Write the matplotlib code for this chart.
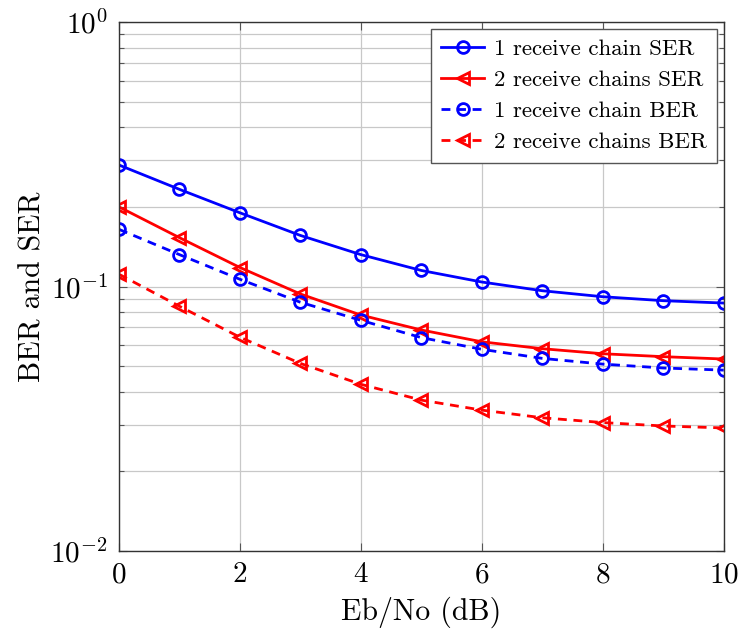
import matplotlib
matplotlib.use("Agg")
import matplotlib.pyplot as plt
import numpy as np

plt.rcParams["font.family"] = "cmr10"
plt.rcParams["mathtext.fontset"] = "cm"
plt.rcParams["axes.formatter.use_mathtext"] = True

# Eb/No values (dB)
ebno = [0, 1, 2, 3, 4, 5, 6, 7, 8, 9, 10]

# error rates
ser_1rx = [0.288, 0.233, 0.190, 0.156, 0.132, 0.115, 0.104, 0.0964, 0.0915, 0.0884, 0.0866]
ser_2rx = [0.200, 0.153, 0.118, 0.0937, 0.078, 0.0685, 0.0618, 0.0582, 0.0557, 0.0543, 0.0532]
ber_1rx = [0.1645, 0.132, 0.1065, 0.0872, 0.0745, 0.0641, 0.0579, 0.0535, 0.0509, 0.0492, 0.0483]
ber_2rx = [0.1113, 0.0842, 0.0643, 0.0512, 0.0427, 0.0372, 0.0341, 0.0319, 0.0306, 0.0297, 0.0292]

labels = ["1 receive chain SER", "2 receive chains SER",
          "1 receive chain BER", "2 receive chains BER"]

fig = plt.figure(figsize=(7.4, 6.33), dpi=100)
ax = fig.add_axes([0.1608, 0.1295, 0.8172, 0.8357])

dash = (0, (3.2, 2.4))
common = dict(lw=2.0, markersize=8.5, markeredgewidth=2.0, markerfacecolor="none")
ax.plot(ebno, ser_1rx, color="blue", marker="o", ls="-", label=labels[0], **common)
ax.plot(ebno, ser_2rx, color="red", marker="<", ls="-", label=labels[1], **common)
ax.plot(ebno, ber_1rx, color="blue", marker="o", ls=dash, label=labels[2], **common)
ax.plot(ebno, ber_2rx, color="red", marker="<", ls=dash, label=labels[3], **common)

ax.set_yscale("log")
ax.set_xlim(0, 10)
ax.set_ylim(1e-2, 1)
ax.set_xticks([0, 2, 4, 6, 8, 10])

ax.grid(True, which="major", color="#c8c8c8", lw=0.9)
ax.grid(True, which="minor", axis="y", color="#c8c8c8", lw=0.9)
ax.set_axisbelow(True)

ax.tick_params(which="both", direction="in", top=True, right=True,
               labelsize=21, color="#555555")
ax.tick_params(which="major", length=6, width=0.8, pad=8)
ax.tick_params(which="minor", length=3.5, width=0.8)
for s in ax.spines.values():
    s.set_color("#333333")
    s.set_linewidth(1.0)

ax.set_xlabel("Eb/No (dB)", fontsize=21.5, labelpad=6)
ax.set_ylabel("BER and SER", fontsize=21.5, labelpad=3)

leg = ax.legend(loc="upper right", fontsize=16.5, fancybox=False,
                edgecolor="#555555", framealpha=1, handlelength=1.9,
                borderaxespad=0.3, labelspacing=0.48, handletextpad=0.4,
                borderpad=0.45)
leg.get_frame().set_linewidth(1.0)

fig.savefig("out.png", dpi=100)
